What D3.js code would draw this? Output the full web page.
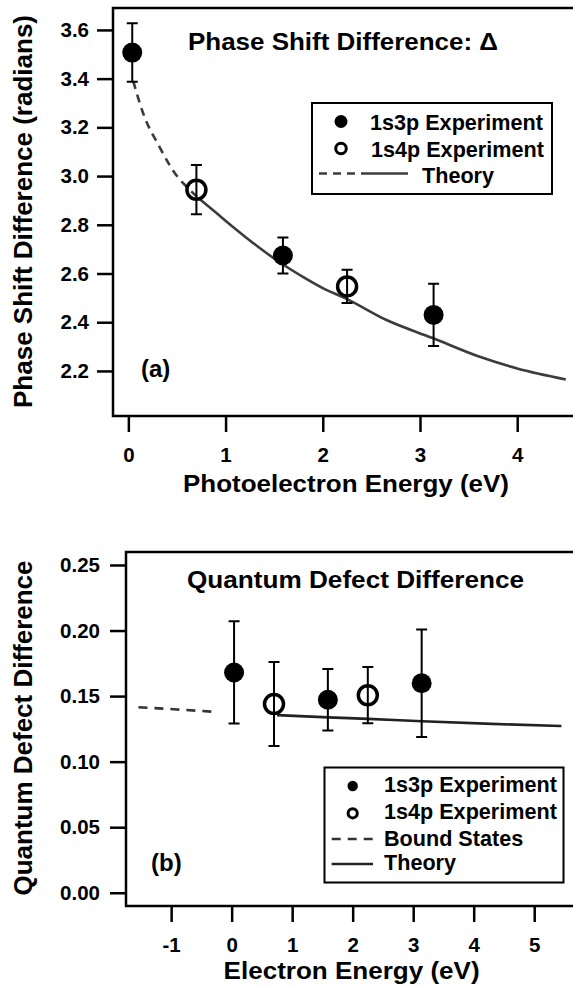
<!DOCTYPE html>
<html><head><meta charset="utf-8">
<script src="https://cdn.jsdelivr.net/npm/d3@7"></script>
<style>
body{margin:0;background:#fff}
svg{display:block}
text{font-family:"Liberation Sans",Arial,Helvetica,sans-serif;font-weight:bold;fill:#000}
</style>
</head><body><svg id="c" width="573" height="987"></svg>
<script>
// ---------- data ----------
const energy1s3p = [0.04, 1.59, 3.14];
const energy1s4p = [0.70, 2.25];

// panel (a): phase shift difference (radians)
const phase1s3p = [3.507, 2.674, 2.43];
const phase1s3pErr = [0.12, 0.074, 0.128];
const phase1s4p = [2.944, 2.547];
const phase1s4pErr = [0.101, 0.068];
const phaseTheoryDashedE = [0.05, 0.15, 0.32, 0.50, 0.60, 0.72];
const phaseTheoryDashedV = [3.39, 3.26, 3.12, 3.00, 2.956, 2.91];
const phaseTheorySolidE = [0.72, 0.90, 1.08, 1.30, 1.56, 1.80, 2.00, 2.25, 2.65, 3.13, 3.60, 4.00, 4.50];
const phaseTheorySolidV = [2.91, 2.85, 2.79, 2.72, 2.645, 2.585, 2.54, 2.495, 2.41, 2.335, 2.26, 2.21, 2.165];
const phaseYTicks = [2.2, 2.4, 2.6, 2.8, 3.0, 3.2, 3.4, 3.6];
const phaseXTicks = [0, 1, 2, 3, 4];

// panel (b): quantum defect difference
const qd1s3p = [0.168, 0.1472, 0.1598];
const qd1s3pErr = [0.039, 0.0235, 0.041];
const qd1s4p = [0.144, 0.1507];
const qd1s4pErr = [0.032, 0.0214];
const boundE = [-1.54, -0.90, -0.28];
const boundV = [0.1415, 0.1398, 0.138];
const qdTheoryE = [0.75, 1.60, 2.25, 3.15, 4.30, 5.45];
const qdTheoryV = [0.1355, 0.1338, 0.1326, 0.1308, 0.1288, 0.1272];
const qdYTicks = [0.00, 0.05, 0.10, 0.15, 0.20, 0.25];
const qdXTicks = [-1, 0, 1, 2, 3, 4, 5];

// ---------- drawing ----------
const svg = d3.select("#c");
const zip = (xs, ys) => xs.map((x, i) => [x, ys[i]]);

function panel(cfg) {
  const g = svg.append("g");
  const x = d3.scaleLinear().domain(cfg.xDomain).range([cfg.left, cfg.right]);
  const y = d3.scaleLinear().domain(cfg.yDomain).range([cfg.bottom, cfg.top]);

  const ya = g.append("g").attr("transform", `translate(${cfg.left},0)`)
    .call(d3.axisLeft(y).tickValues(cfg.yTicks).tickFormat(d3.format(cfg.yFmt))
      .tickSize(16).tickPadding(cfg.yPad).tickSizeOuter(0));
  const xa = g.append("g").attr("transform", `translate(0,${cfg.bottom})`)
    .call(d3.axisBottom(x).tickValues(cfg.xTicks).tickFormat(d => String(d))
      .tickSize(16).tickPadding(15).tickSizeOuter(0));
  [ya, xa].forEach(a => {
    a.select(".domain").remove();
    a.selectAll(".tick line").attr("stroke", "#000").attr("stroke-width", 2.5);
    a.selectAll(".tick text").attr("font-size", 20.5).attr("font-family", null).attr("fill", "#000");
  });

  g.append("path")
    .attr("d", `M${cfg.right + 5},${cfg.top}H${cfg.left}V${cfg.bottom}H${cfg.right + 5}`)
    .attr("fill", "none").attr("stroke", "#000").attr("stroke-width", 2.5);

  const line = d3.line().x(d => x(d[0])).y(d => y(d[1])).curve(d3.curveMonotoneX);
  cfg.lines.forEach(L => {
    g.append("path").attr("d", line(L.pts)).attr("fill", "none")
      .attr("stroke", L.color).attr("stroke-width", 2.6)
      .attr("stroke-dasharray", L.dash || null);
  });

  const cap = 5.5;
  function errBars(xs, ys, es) {
    xs.forEach((xv, i) => {
      const px = x(xv), y1 = y(ys[i] + es[i]), y2 = y(ys[i] - es[i]);
      g.append("path")
        .attr("d", `M${px},${y1}V${y2}M${px - cap},${y1}H${px + cap}M${px - cap},${y2}H${px + cap}`)
        .attr("fill", "none").attr("stroke", "#000").attr("stroke-width", 2);
    });
  }
  errBars(cfg.e3, cfg.v3, cfg.err3);
  errBars(cfg.e4, cfg.v4, cfg.err4);

  g.selectAll("circle.f").data(zip(cfg.e3, cfg.v3)).enter().append("circle")
    .attr("cx", d => x(d[0])).attr("cy", d => y(d[1])).attr("r", 10).attr("fill", "#000");
  g.selectAll("circle.o").data(zip(cfg.e4, cfg.v4)).enter().append("circle")
    .attr("cx", d => x(d[0])).attr("cy", d => y(d[1])).attr("r", 9.5)
    .attr("fill", "none").attr("stroke", "#000").attr("stroke-width", 3.5);
  return g;
}

function txt(x, y, s, size, opts = {}) {
  const t = svg.append("text").attr("x", x).attr("y", y).attr("font-size", size).text(s);
  if (opts.anchor) t.attr("text-anchor", opts.anchor);
  if (opts.len) t.attr("textLength", opts.len).attr("lengthAdjust", "spacingAndGlyphs");
  if (opts.rotate) t.attr("transform", `rotate(-90,${x},${y})`);
  return t;
}

// ---- panel (a)
panel({
  left: 113, right: 573, top: 8, bottom: 416,
  xDomain: [-0.158, 4.574], yDomain: [2.015, 3.69],
  yTicks: phaseYTicks, xTicks: phaseXTicks, yFmt: ".1f", yPad: 8,
  e3: energy1s3p, v3: phase1s3p, err3: phase1s3pErr,
  e4: energy1s4p, v4: phase1s4p, err4: phase1s4pErr,
  lines: [
    {pts: zip(phaseTheoryDashedE, phaseTheoryDashedV), color: "#3c3c3c", dash: "8,6"},
    {pts: zip(phaseTheorySolidE, phaseTheorySolidV), color: "#3c3c3c"}
  ]
});
txt(188, 50, "Phase Shift Difference: \u0394", 23, {len: 310});
txt(141, 377, "(a)", 24);
txt(346, 492, "Photoelectron Energy (eV)", 24, {anchor: "middle", len: 326});
txt(32, 211.5, "Phase Shift Difference (radians)", 26, {anchor: "middle", rotate: true, len: 393});

// legend (a)
svg.append("rect").attr("x", 312).attr("y", 103).attr("width", 240).attr("height", 91)
  .attr("fill", "#fff").attr("stroke", "#000").attr("stroke-width", 2);
svg.append("circle").attr("cx", 341).attr("cy", 121.5).attr("r", 6.5).attr("fill", "#000");
svg.append("circle").attr("cx", 341).attr("cy", 148.5).attr("r", 5.3)
  .attr("fill", "none").attr("stroke", "#000").attr("stroke-width", 3);
svg.append("path").attr("d", "M319,173.5H368").attr("stroke", "#3c3c3c").attr("stroke-width", 2.5).attr("stroke-dasharray", "8,6");
svg.append("path").attr("d", "M368,173.5H408").attr("stroke", "#3c3c3c").attr("stroke-width", 2.5);
txt(370, 129.5, "1s3p Experiment", 21.6);
txt(371, 157, "1s4p Experiment", 21.6);
txt(422, 183, "Theory", 21.6);

// ---- panel (b)
panel({
  left: 126, right: 573, top: 552, bottom: 906,
  xDomain: [-1.746, 5.641], yDomain: [-0.0101, 0.2599],
  yTicks: qdYTicks, xTicks: qdXTicks, yFmt: ".2f", yPad: 10,
  e3: energy1s3p, v3: qd1s3p, err3: qd1s3pErr,
  e4: energy1s4p, v4: qd1s4p, err4: qd1s4pErr,
  lines: [
    {pts: zip(boundE, boundV), color: "#333", dash: "9,7"},
    {pts: zip(qdTheoryE, qdTheoryV), color: "#222"}
  ]
});
txt(187, 588, "Quantum Defect Difference", 23, {len: 337});
txt(151, 871, "(b)", 24);
txt(351.6, 979, "Electron Energy (eV)", 24, {anchor: "middle", len: 256});
txt(32, 728, "Quantum Defect Difference", 26, {anchor: "middle", rotate: true, len: 335});

// legend (b)
svg.append("rect").attr("x", 324.5).attr("y", 767.5).attr("width", 239).attr("height", 115)
  .attr("fill", "#fff").attr("stroke", "#000").attr("stroke-width", 2);
svg.append("circle").attr("cx", 352.7).attr("cy", 786).attr("r", 5.2).attr("fill", "#000");
svg.append("circle").attr("cx", 352.7).attr("cy", 813.3).attr("r", 4.6)
  .attr("fill", "none").attr("stroke", "#000").attr("stroke-width", 3);
svg.append("path").attr("d", "M331.7,839H373").attr("stroke", "#333").attr("stroke-width", 2.5).attr("stroke-dasharray", "9,7");
svg.append("path").attr("d", "M331.7,864H373").attr("stroke", "#222").attr("stroke-width", 2.5);
txt(384, 792, "1s3p Experiment", 21.6);
txt(384, 818.5, "1s4p Experiment", 21.6);
txt(384, 846, "Bound States", 21.6);
txt(384, 869.5, "Theory", 21.6);
</script>
</body></html>
